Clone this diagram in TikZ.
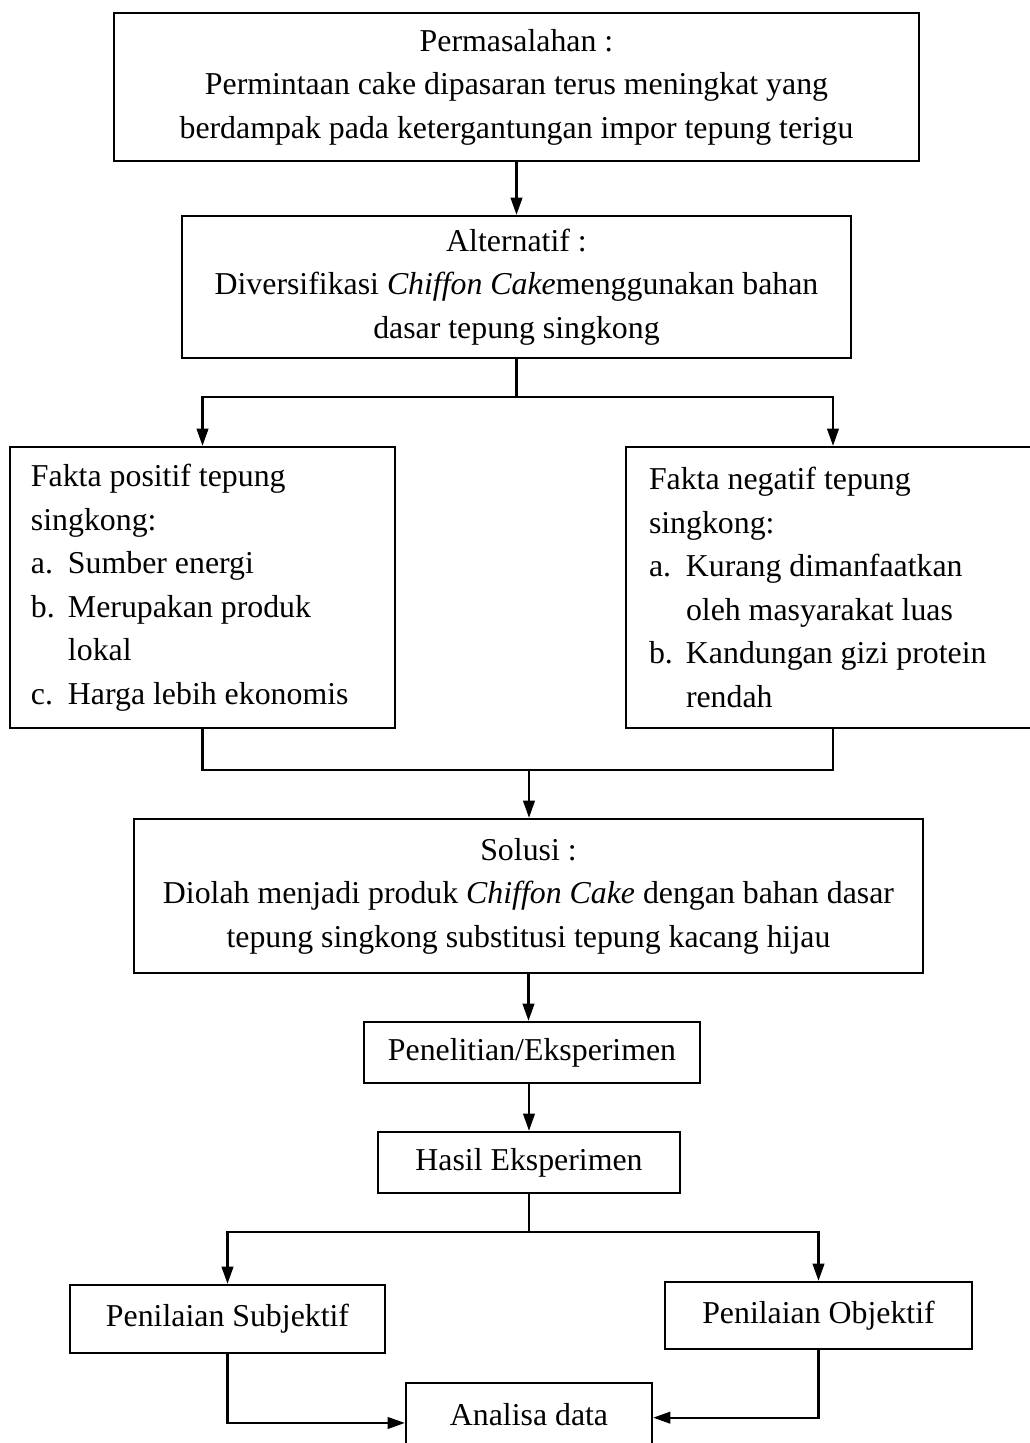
\documentclass[tikz,border=0pt]{standalone}
\usepackage{fontspec}
\setmainfont{Liberation Serif}
\usetikzlibrary{arrows.meta}
\newlength\pxu
\setlength\pxu{0.377pt}
\begin{document}
\begin{tikzpicture}
		[x=0.377pt,y=-0.377pt,line width=0.8pt,
		every node/.style={font=\fontsize{12pt}{16.4pt}\selectfont},
		box/.style={draw,line width=0.9pt,inner sep=0pt,align=center},
		fakta/.style={draw,line width=0.9pt,inner ysep=0pt,align=flush left,minimum height=281\pxu},
		arr/.style={-{Triangle[length=6.5pt,width=4.4pt]}}]
		\useasboundingbox (0,0) rectangle (1030,1443);
		\clip (0,0) rectangle (1030,1443);
		\node[box,minimum width=805\pxu,minimum height=148\pxu] (perm) at (516.5,87)
			{Permasalahan :\\Permintaan cake dipasaran terus meningkat yang\\berdampak pada ketergantungan impor tepung terigu};
		\node[box,minimum width=669\pxu,minimum height=142\pxu] (alt) at (516.5,287)
			{Alternatif :\\Diversifikasi \textit{Chiffon Cake}menggunakan bahan\\dasar tepung singkong};
		\node[fakta,text width=343\pxu,inner xsep=21\pxu] (pos) at (202.5,587.5)
			{Fakta positif tepung\\singkong:\\
			\makebox[37\pxu][l]{a.}Sumber energi\\
			\makebox[37\pxu][l]{b.}Merupakan produk\\
			\hspace*{37\pxu}lokal\\
			\makebox[37\pxu][l]{c.}Harga lebih ekonomis};
		\node[fakta,text width=368\pxu,inner xsep=23\pxu] (neg) at (833,587.5)
			{Fakta negatif tepung\\singkong:\\
			\makebox[37\pxu][l]{a.}Kurang dimanfaatkan\\
			\hspace*{37\pxu}oleh masyarakat luas\\
			\makebox[37\pxu][l]{b.}Kandungan gizi protein\\
			\hspace*{37\pxu}rendah};
		\node[box,minimum width=789\pxu,minimum height=154\pxu] (sol) at (528.5,896)
			{Solusi :\\Diolah menjadi produk \textit{Chiffon Cake} dengan bahan dasar\\tepung singkong substitusi tepung kacang hijau};
		\node[box,minimum width=336\pxu,minimum height=61\pxu] (pen) at (532,1052.5) {Penelitian/Eksperimen};
		\node[box,minimum width=302\pxu,minimum height=61\pxu] (hasil) at (529,1162.5) {Hasil Eksperimen};
		\node[box,minimum width=315\pxu,minimum height=68\pxu] (subj) at (227.5,1319) {Penilaian Subjektif};
		\node[box,minimum width=307\pxu,minimum height=67\pxu] (obj) at (818.5,1315.5) {Penilaian Objektif};
		\node[box,minimum width=246\pxu,minimum height=64\pxu] (ana) at (529,1415) {Analisa data};
		\coordinate (split1) at (516.5,397);
		\coordinate (merge) at (529,770);
		\coordinate (split2) at (529,1232);
		\draw[arr] (perm.south) -- (perm.south |- alt.north);
		\draw[arr] (alt.south) -- (split1) -| (pos.north);
		\draw[arr] (split1) -| (neg.north);
		\draw (pos.south) |- (merge) -| (neg.south);
		\draw[arr] (merge) -- (merge |- sol.north);
		\draw[arr] (sol.south) -- (sol.south |- pen.north);
		\draw[arr] (pen.south -| hasil.north) -- (hasil.north);
		\draw[arr] (hasil.south) -- (split2) -| (subj.north);
		\draw[arr] (split2) -| (obj.north);
		\draw[arr] (subj.south) |- ([yshift=-3pt]ana.west);
		\draw[arr] (obj.south) |- ([yshift=-1pt]ana.east);
	\end{tikzpicture}
\end{document}
